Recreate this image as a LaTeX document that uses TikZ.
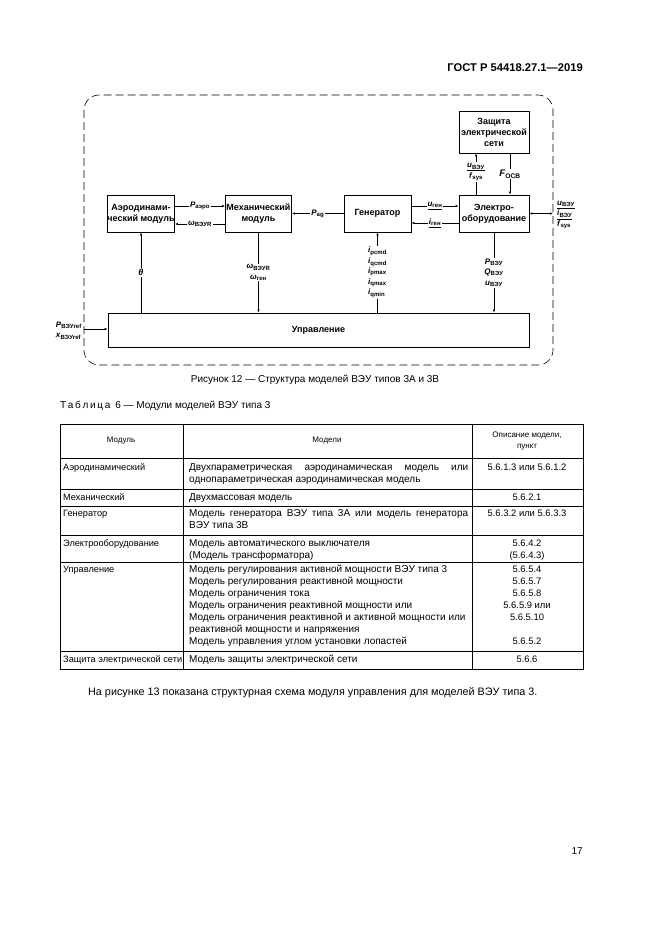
\documentclass[tikz,border=0pt]{standalone}
\usepackage{fontspec}
\setmainfont{Liberation Sans}
\usetikzlibrary{arrows.meta}
\usetikzlibrary{positioning}
\newcommand\sig[2]{\textit{#1}\textsubscript{#2}}
\newcommand\usig[2]{\underline{\textit{#1}\textsubscript{#2}}}
\tikzset{blok/.style = {draw, line width = 0.8pt, inner sep = 0, align = center,
                        font = \fontsize{9}{11}\selectfont\bfseries}}
\tikzset{sig/.style = {font = \fontsize{8}{10.5}\selectfont\bfseries, inner sep = 1pt}}
\tikzset{lbl/.style = {sig, fill = white}}
\tikzset{pil/.style = {line width = 0.6pt, -{Latex[length = 3pt, width = 2.4pt]}}}
\tikzset{txt/.style = {font = \fontsize{10}{12}\selectfont, inner sep = 0}}
\tikzset{cell/.style = {font = \fontsize{9.2}{12}\selectfont, inner sep = 0, anchor = north west, align = left}}
\tikzset{wide/.style = {cell, font = \fontsize{10}{12}\selectfont}}
\tikzset{num/.style = {cell, font = \fontsize{9.4}{12}\selectfont, anchor = north, align = center}}

\begin{document}
\begin{tikzpicture}[x = 1pt, y = -1pt]
            \useasboundingbox (0,0) rectangle (661,935);
            \node [txt, font = \fontsize{11.2}{13}\selectfont\bfseries, anchor = east] (kopf) at (583,68) {ГОСТ Р 54418.27.1—2019};
            % frame of the model
            \draw [dash pattern = on 8pt off 4pt, rounded corners = 15pt, line width = 0.6pt] (84,95) rectangle (553,365);
            \node [blok, minimum width = 67pt, minimum height = 37pt] (aero) at (141,213.5) {Аэродинами-\\ческий модуль};
            \node [blok, minimum width = 66pt, minimum height = 37pt] (mech) at (258.5,213.5) {Механический\\модуль};
            \node [blok, minimum width = 67pt, minimum height = 37pt] (gen) at (377.5,213.5) {Генератор};
            \node [blok, minimum width = 70pt, minimum height = 37pt] (elec) at (494,213.5) {Электро-\\оборудование};
            \node [blok, minimum width = 70pt, minimum height = 42pt] (zash) at (494,132) {Защита\\электрической\\сети};
            \node [blok, minimum width = 421pt, minimum height = 34pt] (upr) at (318.5,330) {Управление};
            % connectors
            \draw [pil] ([yshift = 7.5pt]aero.east) -- node [lbl] {\sig{P}{аэро}} ([yshift = 7.5pt]mech.west);
            \draw [pil] ([yshift = -10.5pt]mech.west) -- node [lbl] {\sig{ω}{ВЭУR}} ([yshift = -10.5pt]aero.east);
            \draw [pil] (gen.west) -- node [lbl] {\sig{P}{ag}} (mech.east);
            \draw [pil] ([yshift = 7.5pt]gen.east) -- node [lbl] {\usig{u}{ген}} ([yshift = 7.5pt]elec.west);
            \draw [pil] ([yshift = -9.5pt]elec.west) -- node [lbl] {\usig{i}{ген}} ([yshift = -9.5pt]gen.east);
            \coordinate (netz) at (553,213.5);
            \draw [pil, {Latex[length = 3pt, width = 2.4pt]}-{Latex[length = 3pt, width = 2.4pt]}] (elec.east) -- (netz);
            \node [sig, anchor = west, align = left] (netzsig) at (556,215) {\usig{u}{ВЭУ}\\\usig{i}{ВЭУ}\\\sig{f}{sys}};
            \node [sig, align = center] (zin) at (476,172) {\usig{u}{ВЭУ}\\\sig{f}{sys}};
            \draw [line width = 0.6pt] (zin.south |- elec.north) -- (zin.south);
            \draw [pil] (zin.north) -- (zin.north |- zash.south);
            \draw [pil] ([xshift = 16pt]zash.south) -- node [lbl, font = \fontsize{9.5}{10}\selectfont\bfseries] {\sig{F}{OCB}} ([xshift = 16pt]elec.north);
            \draw [pil] (upr.north -| aero.south) -- node [lbl, font = \fontsize{9}{10}\selectfont\bfseries] {\textit{θ}} (aero.south);
            \draw [pil] (mech.south) -- node [lbl, align = center] {\sig{ω}{ВЭУR}\\\sig{ω}{ген}} (mech.south |- upr.north);
            \draw [pil] (gen.south |- upr.north) -- node [lbl, align = left] {\sig{i}{pcmd}\\\sig{i}{qcmd}\\\sig{i}{pmax}\\\sig{i}{qmax}\\\sig{i}{qmin}} (gen.south);
            \draw [pil] (elec.south) -- node [lbl, align = center] {\sig{P}{ВЭУ}\\\sig{Q}{ВЭУ}\\\sig{u}{ВЭУ}} (elec.south |- upr.north);
            \coordinate (ein) at (84,329);
            \draw [pil] (ein) -- (upr.west |- ein);
            \node [sig, align = left, anchor = east] (einsig) at (83,330.5) {\sig{P}{ВЭУref}\\\sig{x}{ВЭУref}};
            % caption and table
            \node [txt] (cap) at (315,380) {Рисунок 12 — Структура моделей ВЭУ типов 3А и 3В};
            \node [txt, anchor = west] (tabt) at (60,406) {Т\,а\,б\,л\,и\,ц\,а\enspace 6 — Модули моделей ВЭУ типа 3};
            \draw [line width = 0.6pt] (60,424) rectangle (583,669);
            \draw [line width = 0.6pt] (183,424) -- (183,669) (472,424) -- (472,669);
            \draw [line width = 0.6pt] (60,458) -- (583,458) (60,489) -- (583,489) (60,506) -- (583,506)
                  (60,535) -- (583,535) (60,562) -- (583,562) (60,651) -- (583,651);
            \node [font = \fontsize{8}{11}\selectfont, inner sep = 0] (h1) at (121,441) {Модуль};
            \node [font = \fontsize{8}{11}\selectfont, inner sep = 0] (h2) at (327,441) {Модели};
            \node [font = \fontsize{8}{11}\selectfont, inner sep = 0, align = center] (h3) at (527,441) {Описание модели,\\пункт};
            \node [cell] (a1) at (63,463.5) {Аэродинамический};
            \node [wide, text width = 279pt, align = justify] (a2) at (189,463) {Двухпараметрическая аэродинамическая модель или однопараметрическая аэродинамическая модель};
            \node [num] (a3) at (527,463.5) {5.6.1.3 или 5.6.1.2};
            \node [cell] (b1) at (63,493.5) {Механический};
            \node [wide] (b2) at (189,493) {Двухмассовая модель};
            \node [num] (b3) at (527,493.5) {5.6.2.1};
            \node [cell] (c1) at (63,509.5) {Генератор};
            \node [wide, text width = 279pt, align = justify] (c2) at (189,509) {Модель генератора ВЭУ типа 3А или модель генератора ВЭУ типа 3В};
            \node [num] (c3) at (527,509.5) {5.6.3.2 или 5.6.3.3};
            \node [cell] (d1) at (63,539.5) {Электрооборудование};
            \node [wide] (d2) at (189,539) {Модель автоматического выключателя\\(Модель трансформатора)};
            \node [num] (d3) at (527,539.5) {5.6.4.2\\(5.6.4.3)};
            \node [cell] (e1) at (63,565.5) {Управление};
            \node [wide] (e2) at (189,565) {Модель регулирования активной мощности ВЭУ типа 3\\Модель регулирования реактивной мощности\\Модель ограничения тока\\Модель ограничения реактивной мощности или\\Модель ограничения реактивной и активной мощности или\\реактивной мощности и напряжения\\Модель управления углом установки лопастей};
            \node [num] (e3) at (527,565.5) {5.6.5.4\\5.6.5.7\\5.6.5.8\\5.6.5.9 или\\5.6.5.10\\\mbox{}\\5.6.5.2};
            \node [cell] (f1) at (63,655.5) {Защита электрической сети};
            \node [wide] (f2) at (189,655) {Модель защиты электрической сети};
            \node [num] (f3) at (527,655.5) {5.6.6};
            \node [txt, font = \fontsize{10.8}{13}\selectfont, anchor = west] (text) at (88,693) {На рисунке 13 показана структурная схема модуля управления для моделей ВЭУ типа 3.};
            \node [txt, anchor = east] (seite) at (583,851) {17};
        \end{tikzpicture}
\end{document}
